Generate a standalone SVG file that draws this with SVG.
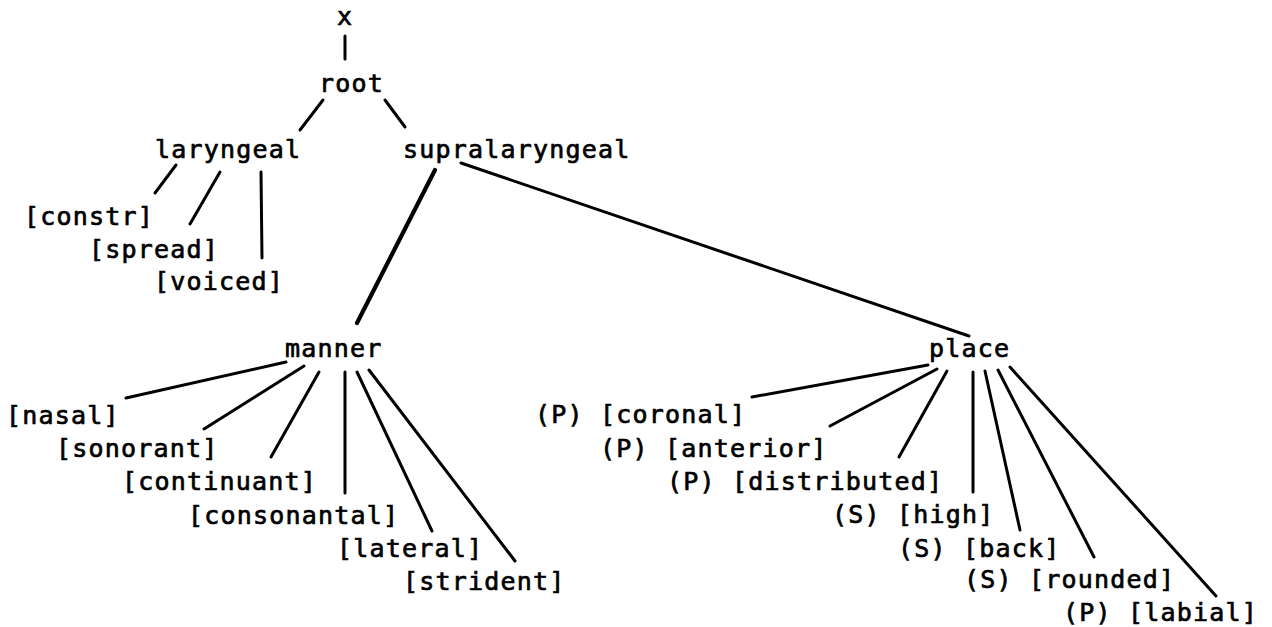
<svg xmlns="http://www.w3.org/2000/svg" width="1272" height="627" viewBox="0 0 1272 627">
<style>
text{font-family:"DejaVu Sans Mono","Liberation Mono",monospace;font-size:25px;letter-spacing:1.2px;fill:#000;stroke:#000;stroke-width:0.7px}
.e{stroke:#000;stroke-width:3;stroke-linecap:round;fill:none}
.t{stroke-width:4.2}
</style>
<rect width="1272" height="627" fill="#fff"/>
<g id="connectors">
<line class="e" x1="345" y1="36" x2="345" y2="59"/>
<line class="e" x1="323" y1="100" x2="300" y2="130"/>
<line class="e" x1="385" y1="100" x2="405" y2="127"/>
<line class="e" x1="176" y1="165" x2="155" y2="193"/>
<line class="e" x1="220" y1="172" x2="190" y2="224"/>
<line class="e" x1="261" y1="172" x2="262" y2="258"/>
<line class="e t" x1="435" y1="170" x2="357" y2="323"/>
<line class="e" x1="461" y1="163" x2="969" y2="336"/>
<line class="e" x1="286" y1="362" x2="126" y2="398"/>
<line class="e" x1="304" y1="366" x2="204" y2="429"/>
<line class="e" x1="319" y1="372" x2="271" y2="457"/>
<line class="e" x1="345" y1="372" x2="345" y2="493"/>
<line class="e" x1="357" y1="372" x2="432" y2="531"/>
<line class="e" x1="369" y1="370" x2="515" y2="561"/>
<line class="e" x1="928" y1="365" x2="752" y2="397"/>
<line class="e" x1="937" y1="369" x2="830" y2="426"/>
<line class="e" x1="947" y1="371" x2="899" y2="457"/>
<line class="e" x1="973" y1="372" x2="973" y2="492"/>
<line class="e" x1="985" y1="371" x2="1020" y2="530"/>
<line class="e" x1="998" y1="370" x2="1094" y2="557"/>
<line class="e" x1="1010" y1="367" x2="1216" y2="596"/>
</g>
<g id="n-x"><text x="337" y="25">x</text></g>
<g id="n-root"><text x="319" y="92">root</text></g>
<g id="n-laryngeal"><text x="155" y="158">laryngeal</text></g>
<g id="n-supralaryngeal"><text x="403" y="158">supralaryngeal</text></g>
<g id="n-constr"><text x="24" y="225">[constr]</text></g>
<g id="n-spread"><text x="89" y="258">[spread]</text></g>
<g id="n-voiced"><text x="154" y="290">[voiced]</text></g>
<g id="n-manner"><text x="285" y="357">manner</text></g>
<g id="n-place"><text x="929" y="357">place</text></g>
<g id="n-nasal"><text x="6" y="424">[nasal]</text></g>
<g id="n-sonorant"><text x="56" y="457">[sonorant]</text></g>
<g id="n-continuant"><text x="122" y="490">[continuant]</text></g>
<g id="n-consonantal"><text x="188" y="524">[consonantal]</text></g>
<g id="n-lateral"><text x="337" y="557">[lateral]</text></g>
<g id="n-strident"><text x="403" y="590">[strident]</text></g>
<g id="n-coronal"><text x="535" y="423">(P) [coronal]</text></g>
<g id="n-anterior"><text x="600" y="457">(P) [anterior]</text></g>
<g id="n-distributed"><text x="667" y="490">(P) [distributed]</text></g>
<g id="n-high"><text x="832" y="523">(S) [high]</text></g>
<g id="n-back"><text x="898" y="557">(S) [back]</text></g>
<g id="n-rounded"><text x="964" y="588">(S) [rounded]</text></g>
<g id="n-labial"><text x="1063" y="621">(P) [labial]</text></g>
</svg>
